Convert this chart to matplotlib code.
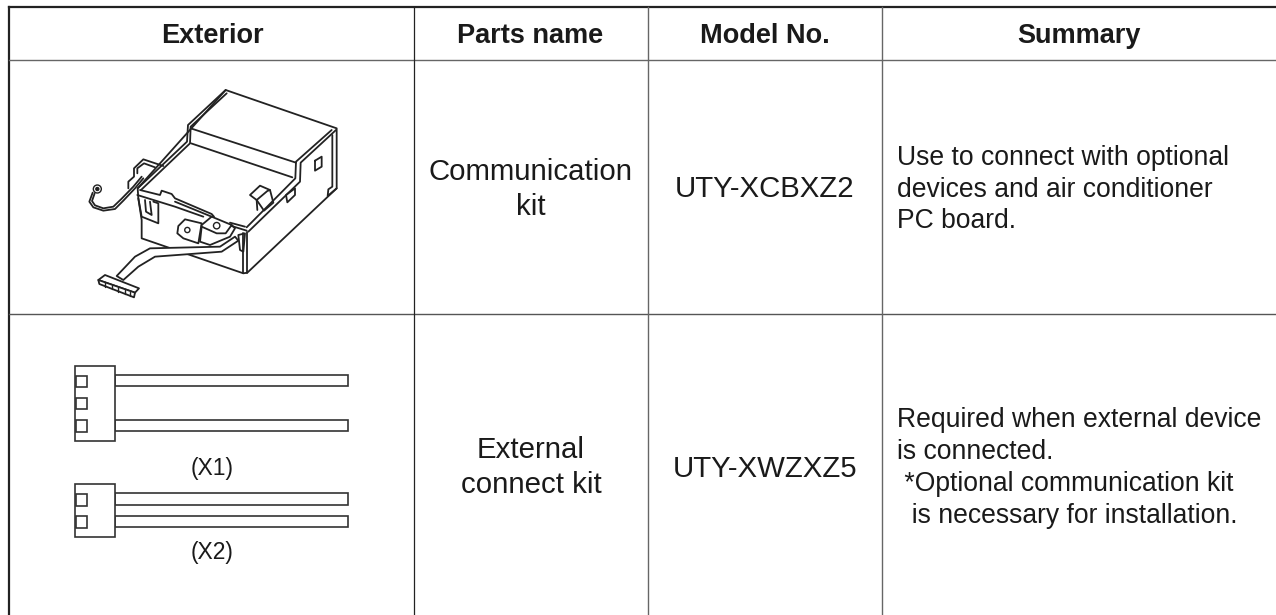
import matplotlib
matplotlib.use("Agg")
import matplotlib.pyplot as plt
from matplotlib.patches import Circle

plt.rcParams['font.family'] = ['Liberation Sans', 'DejaVu Sans']

INK = "#222222"
TEXT = "#1a1a1a"

headers = ["Exterior", "Parts name", "Model No.", "Summary"]
header_x = [212, 530, 765, 1079]
parts_1 = ["Communication", "kit"]
parts_2 = ["External", "connect kit"]
models = ["UTY-XCBXZ2", "UTY-XWZXZ5"]
summary_1 = ["Use to connect with optional", "devices and air conditioner", "PC board."]
summary_2 = ["Required when external device", "is connected.", " *Optional communication kit",
             "  is necessary for installation."]

# the unit drawing, in coordinates of a 3x crop taken at (60, 60)
body = [(245, 480), (245, 535), (550, 640), (562, 638), (830, 385), (830, 205), (497, 90), (233, 385), (235, 415)]
side_edges = [[(562, 515), (562, 638)], [(550, 520), (550, 640)]]
side_inner = [(817, 225), (817, 380), (805, 388), (803, 408), (830, 385)]
window = [(765, 302), (785, 290), (785, 320), (765, 332), (765, 302)]
side_tab = [(678, 405), (705, 385), (705, 405), (682, 427), (678, 405)]
rim_lines = [
    [(233, 385), (381, 245), (384, 195), (497, 90)],
    [(243, 390), (390, 250), (392, 200), (500, 100)],
    [(828, 210), (722, 308), (720, 365), (565, 515)],
    [(815, 210), (708, 305), (706, 355), (560, 502)],
    [(392, 205), (708, 308)],
    [(393, 250), (697, 352)],
    [(240, 390), (300, 405), (305, 392), (335, 402), (345, 415), (455, 462), (462, 470)],
    [(232, 405), (345, 440), (430, 470)],
    [(345, 425), (455, 470)],
    [(510, 488), (555, 500)],
    [(515, 498), (560, 512)],
]
hook = [(205, 385), (205, 365), (222, 350), (222, 325), (250, 298), (310, 318)]
hook_inner = [(232, 340), (232, 325), (252, 310), (285, 322)]
clip_left = [(235, 415), (245, 470), (295, 490), (295, 430), (280, 425)]
clip_inner = [(255, 420), (258, 455), (275, 465), (270, 425)]
wire_a = [(98, 398), (88, 425), (100, 442), (130, 452), (165, 447), (190, 422), (225, 385), (250, 355)]
wire_b = [(104, 400), (96, 423), (105, 436), (130, 445), (160, 440), (185, 416), (220, 380), (245, 350)]
ear = [(415, 550), (370, 535), (352, 520), (355, 498), (375, 478), (425, 490)]
block_top = [(425, 495), (455, 470), (515, 495), (497, 520), (470, 520), (425, 500), (425, 495)]
block_low = [(425, 500), (420, 545), (450, 555), (510, 530), (525, 505), (515, 495)]
clip_front = [(535, 525), (540, 570), (550, 575), (555, 520), (535, 525)]
clip_top = [(570, 405), (600, 377), (630, 390), (640, 428), (612, 452), (590, 420), (570, 405)]
clip_top_edge = [(590, 420), (622, 393), (630, 390)]
clip_top_mid = [(590, 420), (592, 450)]
cable_a = [(525, 530), (480, 560), (270, 565), (225, 590), (170, 648)]
cable_b = [(535, 542), (485, 575), (285, 590), (235, 620), (190, 660)]
plug_top = [(115, 660), (135, 645), (237, 685), (225, 698), (115, 660)]
plug_front = [(115, 660), (118, 672), (222, 712), (225, 698), (115, 660)]
plug_pins = [135, 155, 175, 195, 210]

# wire harness drawing, in coordinates of a 3x crop taken at (60, 340)
housing_x = (45, 166)
pin_x = (47, 82)
wire_x = (166, 863)
x1_housing = (77, 303)
x1_pins = [(108, 142), (174, 208), (241, 275)]
x1_wires = [(105, 139), (239, 273)]
x2_housing = (432, 592)
x2_pins = [(463, 497), (529, 563)]
x2_wires = [(460, 494), (527, 561)]


def unit_xy(pts):
    return [p[0] / 3 + 60 for p in pts], [p[1] / 3 + 60 for p in pts]


def draw_line(ax, pts, lw=1.3):
    x, y = unit_xy(pts)
    ax.plot(x, y, color=INK, lw=lw, solid_joinstyle="round", solid_capstyle="round")


def draw_shape(ax, pts, lw=1.3):
    x, y = unit_xy(pts)
    ax.fill(x, y, facecolor="white", edgecolor=INK, lw=lw, joinstyle="round")


def draw_box(ax, xr, yr):
    x = [xr[0] / 3 + 60, xr[1] / 3 + 60, xr[1] / 3 + 60, xr[0] / 3 + 60]
    y = [yr[0] / 3 + 340, yr[0] / 3 + 340, yr[1] / 3 + 340, yr[1] / 3 + 340]
    ax.fill(x, y, facecolor="white", edgecolor="#333333", lw=1.2)


def label(ax, x, y, s, size, ha="center", **kw):
    ax.text(x, y, s, ha=ha, va="baseline", fontsize=size, color=TEXT, **kw)


fig = plt.figure(figsize=(12.76, 6.15), dpi=100)
ax = fig.add_axes([0, 0, 1, 1])
ax.set_xlim(0, 1276)
ax.set_ylim(615, 0)
ax.axis("off")

# table lines
ax.plot([9, 9], [6.5, 615], color="#222222", lw=1.6)
ax.plot([9, 1276], [6.5, 6.5], color="#222222", lw=1.6)
ax.plot([9, 1276], [60, 60], color="#666666", lw=1.0)
ax.plot([9, 1276], [314, 314], color="#555555", lw=1.0)
ax.plot([413.5, 413.5], [6.5, 615], color="#222222", lw=0.9)
ax.plot([647.7, 647.7], [6.5, 615], color="#666666", lw=1.0)
ax.plot([882, 882], [6.5, 615], color="#666666", lw=1.0)

for name, x in zip(headers, header_x):
    label(ax, x, 43, name, 19.5, fontweight="bold")

for line, y in zip(parts_1, [180, 215]):
    label(ax, 531, y, line, 21.2)
for line, y in zip(parts_2, [458, 493]):
    label(ax, 531, y, line, 21.2)
for name, y in zip(models, [197, 477]):
    label(ax, 765, y, name, 21.2)

for line, y in zip(summary_1, [165, 197, 228]):
    label(ax, 897, y, line, 19.1, ha="left")
for line, y in zip(summary_2, [427, 459, 491, 523]):
    label(ax, 897, y, line, 19.1, ha="left")

# unit drawing
draw_shape(ax, body)
for pts in side_edges:
    draw_line(ax, pts)
draw_line(ax, side_inner)
draw_line(ax, window)
draw_shape(ax, side_tab)
draw_line(ax, hook)
draw_line(ax, hook_inner)
for pts in rim_lines:
    draw_line(ax, pts)
draw_line(ax, clip_left)
draw_line(ax, clip_inner)
draw_line(ax, wire_a)
draw_line(ax, wire_b)
for r, c in [(4.0, "white"), (1.5, INK)]:
    ax.add_patch(Circle((112 / 3 + 60, 387 / 3 + 60), r, facecolor=c, edgecolor=INK, lw=1.0))
draw_shape(ax, ear)
ax.add_patch(Circle((382 / 3 + 60, 510 / 3 + 60), 2.6, facecolor="white", edgecolor=INK, lw=1.0))
draw_shape(ax, block_low)
draw_shape(ax, block_top)
ax.add_patch(Circle((470 / 3 + 60, 497 / 3 + 60), 3.2, facecolor="white", edgecolor=INK, lw=1.0))
draw_shape(ax, clip_front)
draw_shape(ax, clip_top)
draw_line(ax, clip_top_edge)
draw_line(ax, clip_top_mid)
draw_shape(ax, cable_a + cable_b[::-1])
draw_shape(ax, plug_top)
draw_shape(ax, plug_front)
for px in plug_pins:
    draw_line(ax, [(px, 667 + (px - 135) * 0.38), (px, 680 + (px - 135) * 0.38)], 1.0)

# wire harnesses
for hs, pins, wires in [(x1_housing, x1_pins, x1_wires), (x2_housing, x2_pins, x2_wires)]:
    for w in wires:
        draw_box(ax, wire_x, w)
    draw_box(ax, housing_x, hs)
    for p in pins:
        draw_box(ax, pin_x, p)

label(ax, 212, 475, "(X1)", 16.5)
label(ax, 212, 559, "(X2)", 16.5)

plt.savefig("out.png", dpi=100)
